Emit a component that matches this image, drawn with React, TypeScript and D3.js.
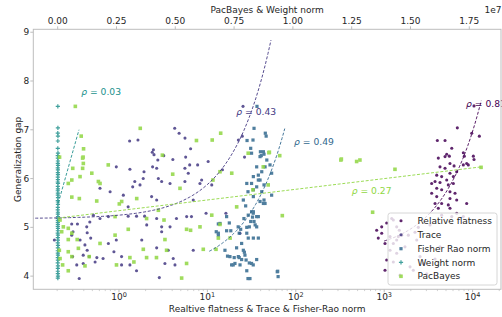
import React from "react";
import * as d3 from "d3";

// [x, generalization gap]; x for relFlat/trace/fisher on bottom log axis, pacBayes/weightNorm on top axis
const relFlat: [number, number][] = [
  [4093, 6.42], [4875, 6.45], [5458, 6.46], [8054, 6.46], [10190, 6.46], [10370, 6.39], [8570, 6.31],
  [8935, 6.28], [7850, 6.28], [6166, 6.26], [5546, 6.31], [4276, 6.24], [4875, 6.21], [6607, 6.14],
  [5546, 6.11], [3926, 6.07], [4467, 6.04], [6053, 6.04], [3758, 5.94], [4276, 5.92], [5093, 5.97],
  [5309, 5.87], [6053, 5.9], [3443, 5.9], [3926, 5.8], [4467, 5.77], [5546, 5.73], [6324, 5.7],
  [3443, 5.7], [3926, 5.63], [5546, 5.59], [6607, 5.56], [8570, 5.49], [3758, 5.49], [4467, 5.49],
  [5309, 5.46], [4093, 5.39], [5546, 5.39], [6607, 5.29], [4467, 5.25], [5808, 5.22], [7850, 5.22],
  [1067, 5.09], [937, 5.01], [822, 4.94], [937, 4.88], [857, 4.78], [1268, 5.15], [1482, 4.94],
  [1578, 4.84], [1164, 4.81], [1384, 4.74], [1021, 4.67], [1164, 4.53], [1384, 4.47], [1067, 4.33],
  [1268, 4.29], [1021, 4.12], [1510, 4.02], [1216, 5.18], [1384, 5.01], [1445, 4.81], [1268, 4.67],
  [1875, 4.84], [1718, 4.6], [1959, 4.19], [2133, 4.12], [2333, 4.74], [2541, 4.4], [2767, 4.26],
  [2230, 4.9], [3296, 5.05], [3027, 4.05], [2432, 5.0], [4276, 4.6], [3758, 4.35], [10370, 7.49],
  [6714, 7.04], [9772, 6.93], [11910, 6.87], [3990, 6.78], [4875, 6.78], [5808, 6.62], [5093, 6.5],
  [7850, 6.53],
];

const trace: [number, number][] = [
  [0.186, 4.74], [0.355, 3.95], [0.292, 5.07], [0.339, 5.07], [0.292, 4.84], [0.437, 4.89], [0.479, 4.78],
  [0.363, 4.74], [0.412, 4.64], [0.437, 4.53], [0.394, 4.43], [0.461, 4.4], [0.299, 4.4], [0.333, 4.23],
  [0.394, 4.26], [0.562, 4.38], [0.661, 4.36], [0.537, 4.29], [0.759, 4.67], [0.933, 4.74], [0.877, 4.5],
  [1.07, 4.4], [1.07, 4.23], [1.33, 4.23], [1.58, 4.11], [2.86, 3.97], [1.81, 4.74], [2.67, 4.58],
  [3.61, 4.53], [3.31, 4.26], [4.11, 4.36], [4.3, 4.23], [6.92, 4.53], [0.759, 5.22], [1.27, 5.23],
  [1.58, 5.23], [1.95, 5.23], [2.67, 5.18], [3.04, 5.01], [3.04, 4.91], [2.06, 5.05], [0.432, 5.01],
  [0.302, 4.91], [5.83, 5.22], [6.61, 5.22], [4.47, 5.18], [9.66, 5.29], [0.61, 5.8], [0.794, 5.73],
  [0.933, 6.24], [1.27, 5.42], [1.12, 5.66], [1.43, 5.83], [1.51, 5.94], [1.73, 5.87], [1.88, 6.0],
  [1.33, 6.19], [1.92, 6.14], [2.4, 6.24], [2.67, 6.21], [2.79, 6.0], [3.04, 5.94], [2.34, 5.63],
  [2.67, 5.56], [3.78, 5.9], [5.57, 5.94], [6.08, 6.11], [5.57, 6.21], [6.31, 6.28], [7.76, 6.28],
  [8.61, 5.97], [8.24, 5.9], [10.2, 6.35], [2.45, 6.59], [3.78, 5.01], [6.92, 5.56], [0.513, 5.25],
  [0.61, 5.18], [0.468, 5.11], [1.32, 6.77], [1.64, 6.79], [4.27, 7.03], [4.79, 6.93], [2.38, 6.54],
  [2.49, 6.49], [3.21, 6.47], [4.07, 6.39], [5.68, 6.44], [2.75, 6.38], [25.3, 7.48], [6.46, 6.61],
  [24.8, 6.87], [26.3, 6.44], [5.58, 6.83], [23.4, 4.88], [11.2, 5.87], [14.8, 6.18], [22.4, 6.79],
  [16.2, 5.29],
];

const fisherRao: [number, number][] = [
  [36.4, 7.48], [33.7, 7.03], [28.1, 6.78], [32.8, 6.79], [45.2, 6.93], [46.2, 6.87], [30.9, 6.62],
  [40.7, 6.47], [43.7, 6.5], [25.5, 5.56], [27.1, 5.44], [16.5, 5.22], [13.3, 5.07], [17.7, 5.09],
  [18.4, 4.93], [16.5, 4.93], [13.3, 4.88], [25.9, 5.18], [29.0, 5.25], [31.6, 5.32], [33.0, 5.29],
  [32.4, 5.21], [33.7, 5.12], [34.7, 5.05], [29.8, 5.01], [27.9, 5.0], [37.7, 5.22], [43.0, 5.49],
  [39.4, 5.53], [22.3, 5.01], [23.8, 4.96], [22.9, 4.88], [27.9, 4.88], [29.0, 4.78], [33.1, 4.78],
  [24.4, 4.67], [21.4, 4.58], [25.5, 4.53], [26.2, 4.49], [26.6, 4.43], [15.8, 4.53], [16.9, 4.41],
  [20.1, 4.38], [22.9, 4.38], [24.4, 4.34], [27.4, 4.33], [29.8, 4.27], [20.5, 4.26], [18.8, 4.23],
  [33.0, 4.23], [36.1, 4.34], [27.9, 4.11], [30.3, 3.95], [61.7, 4.09], [13.3, 4.84], [12.6, 4.91],
  [13.9, 5.08], [18.0, 4.4], [19.6, 4.23], [23.4, 4.23], [22.4, 4.4], [28.8, 3.95], [36.1, 6.24],
  [33.1, 6.04], [37.7, 5.97], [27.9, 5.9], [28.8, 5.73], [33.1, 5.63], [31.6, 6.52], [43.0, 6.55],
  [39.4, 6.45], [47.0, 6.38], [44.9, 6.24], [51.1, 6.28], [53.3, 6.11], [41.2, 6.14], [37.7, 6.07],
  [39.4, 5.97], [31.6, 5.9], [36.1, 5.83], [33.1, 5.77], [43.7, 5.87], [41.2, 5.73], [53.3, 5.66],
  [43.7, 5.56], [44.9, 5.49], [33.1, 5.32], [36.1, 5.22], [30.9, 5.12], [36.1, 5.01], [37.7, 4.78],
  [31.6, 4.26], [62.4, 4.1], [63.1, 3.99], [39.8, 6.55],
];

const weightNorm: [number, number][] = [
  [6000, 7.48], [9000, 7.04], [4000, 6.93], [11000, 6.87], [7000, 6.77], [5000, 6.62], [12000, 6.52],
  [3000, 6.47], [8000, 6.42], [10000, 6.36], [6000, 6.31], [13000, 6.27], [4000, 6.22], [9000, 6.18],
  [7000, 6.12], [11000, 6.08], [5000, 6.03], [8000, 5.98], [3000, 5.93], [12000, 5.9], [6000, 5.84],
  [10000, 5.79], [4000, 5.75], [9000, 5.7], [7000, 5.66], [13000, 5.61], [5000, 5.55], [8000, 5.52],
  [11000, 5.47], [6000, 5.41], [3000, 5.36], [10000, 5.31], [7000, 5.27], [12000, 5.22], [4000, 5.18],
  [9000, 5.14], [6000, 5.1], [8000, 5.06], [5000, 5.02], [11000, 4.98], [7000, 4.93], [3000, 4.88],
  [10000, 4.84], [6000, 4.79], [9000, 4.74], [4000, 4.68], [12000, 4.63], [8000, 4.58], [5000, 4.52],
  [7000, 4.47], [11000, 4.43], [6000, 4.38], [9000, 4.33], [3000, 4.27], [10000, 4.21], [8000, 4.16],
  [5000, 4.1], [7000, 4.05], [12000, 4.0], [6000, 3.96],
];

const pacBayes: [number, number][] = [
  [0.075e7, 7.48], [0.351e7, 7.03], [0.1e7, 6.87], [0.11e7, 6.61], [0.108e7, 6.44], [0.445e7, 6.48],
  [0.008e7, 6.44], [0.59e7, 6.78], [0.657e7, 6.79], [0.693e7, 6.93], [0.9e7, 6.54], [0.944e7, 6.47],
  [1.206e7, 6.4], [0.106e7, 6.42], [0.109e7, 6.31], [0.064e7, 6.21], [0.106e7, 6.21], [0.095e7, 6.04],
  [0.06e7, 5.97], [0.045e7, 5.9], [0.145e7, 6.11], [0.215e7, 6.28], [0.173e7, 5.94], [0.18e7, 5.9],
  [0.06e7, 5.62], [0.092e7, 5.59], [0.166e7, 5.54], [0.262e7, 5.48], [0.272e7, 5.53], [0.336e7, 5.59],
  [0.244e7, 5.22], [0.378e7, 5.18], [0.01e7, 5.15], [0.024e7, 5.01], [0.045e7, 4.98], [0.017e7, 4.91],
  [0.06e7, 4.88], [0.045e7, 4.75], [0.083e7, 4.75], [0.18e7, 4.67], [0.244e7, 4.84], [0.3e7, 4.96],
  [0.088e7, 4.57], [0.007e7, 4.53], [0.045e7, 4.5], [0.134e7, 4.4], [0.06e7, 4.4], [0.01e7, 4.36],
  [0.116e7, 4.21], [0.021e7, 4.23], [0.045e7, 4.11], [0.307e7, 4.38], [0.324e7, 4.29], [0.378e7, 4.38],
  [0.42e7, 4.38], [0.25e7, 4.23], [0.364e7, 4.55], [0.463e7, 4.53], [0.548e7, 4.26], [0.527e7, 3.96],
  [0.428e7, 5.35], [0.452e7, 5.15], [0.489e7, 6.09], [0.456e7, 4.75], [0.52e7, 5.8], [0.548e7, 4.96],
  [0.565e7, 4.94], [0.605e7, 5.01], [0.619e7, 4.55], [0.69e7, 6.14], [0.74e7, 6.11], [0.683e7, 4.78],
  [0.83e7, 5.77], [0.66e7, 5.97], [0.81e7, 6.52], [0.898e7, 6.53], [0.874e7, 6.24], [0.895e7, 5.87],
  [0.955e7, 5.24], [1.204e7, 6.38], [1.271e7, 6.35], [1.285e7, 6.38], [1.434e7, 6.19], [1.339e7, 5.31],
  [1.8e7, 6.23], [0.761e7, 5.42], [0.655e7, 5.25], [0.69e7, 5.06], [0.673e7, 4.55], [0.733e7, 4.78],
];

// linear fits y = a + b*x, drawn from x0 to x1, with the label anchor
const fits = [
  { key: "rel", a: 4.47, b: 2.5e-4, x0: 1000, x1: 12500, rho: "0.81", lx: 8414, ly: 7.54 },
  { key: "trace", a: 5.18, b: 0.0698, x0: 0.1, x1: 52.4, rho: "0.43", lx: 21.2, ly: 7.37 },
  { key: "fisher", a: 4.1, b: 0.039, x0: 10.5, x1: 75, rho: "0.49", lx: 95.5, ly: 6.76 },
  { key: "weight", a: 5.456, b: 1.705e-6, x0: 0.0026e7, x1: 0.0906e7, rho: "0.03", lx: 0.1e7, ly: 7.77 },
  { key: "pac", a: 5.19, b: 5.83e-8, x0: 0, x1: 1.8e7, rho: "0.27", lx: 1.25e7, ly: 5.75 },
];

const series = [
  { key: "rel", label: "Relative flatness", color: "#440154", shape: "circle", top: false, data: relFlat },
  { key: "trace", label: "Trace", color: "#443983", shape: "circle", top: false, data: trace },
  { key: "fisher", label: "Fisher Rao norm", color: "#31688e", shape: "square", top: false, data: fisherRao },
  { key: "weight", label: "Weight norm", color: "#21918c", shape: "plus", top: true, data: weightNorm },
  { key: "pac", label: "PacBayes", color: "#90d743", shape: "bigsquare", top: true, data: pacBayes },
];

const yTicks = [4, 5, 6, 7, 8, 9];
const topTicks = [0, 0.25e7, 0.5e7, 0.75e7, 1e7, 1.25e7, 1.5e7, 1.75e7];
const logTicks = [0, 1, 2, 3, 4];

const W = 502;
const H = 317;
const L = 33.3, R = 501, T = 29.3, B = 289.3;
const font = "DejaVu Sans, sans-serif";
const spine = "#bdbdbd";
const txt = "#262626";

function Marker({ shape, x, y, color }: { shape: string; x: number; y: number; color: string }) {
  if (shape === "square" || shape === "bigsquare") {
    const h = shape === "square" ? 1.6 : 1.8;
    return <rect x={x - h} y={y - h} width={2 * h} height={2 * h} fill={color} />;
  }
  if (shape === "plus") {
    const a = 2.1, b = 0.6;
    const d = `M${x - b},${y - a}H${x + b}V${y - b}H${x + a}V${y + b}H${x + b}V${y + a}H${x - b}V${y + b}H${x - a}V${y - b}H${x - b}Z`;
    return <path d={d} fill={color} />;
  }
  return <circle cx={x} cy={y} r={1.55} fill={color} />;
}

export default function App() {
  const xLog = d3.scaleLog().domain([10 ** -0.969, 10 ** 4.321]).range([L, R]);
  const xTop = d3.scaleLinear().domain([-0.1037e7, 1.8848e7]).range([L, R]);
  const y = d3.scaleLinear().domain([3.73, 9.06]).range([B, T]);

  const minor: number[] = [];
  for (let k = -1; k <= 4; k++) {
    for (let m = 2; m <= 9; m++) {
      const v = m * 10 ** k;
      if (xLog(v) >= L && xLog(v) <= R) minor.push(v);
    }
  }

  const colorOf = (k: string) => series.find((s) => s.key === k)!.color;
  const isTop = (k: string) => series.find((s) => s.key === k)!.top;

  const fitPath = (f: (typeof fits)[number]) => {
    const top = isTop(f.key);
    const pts = top
      ? [f.x0, f.x1]
      : d3.range(0, 81).map((i) => Math.exp(Math.log(f.x0) + (i / 80) * (Math.log(f.x1) - Math.log(f.x0))));
    const sx = top ? xTop : xLog;
    return d3.line<number>().x((v) => sx(v)).y((v) => y(f.a + f.b * v))(pts) ?? "";
  };

  const legendY = [220.7, 234.7, 248.7, 262.4, 276.3];

  return (
    <svg width={W} height={H} style={{ position: "absolute", left: 0, top: 0, background: "#fff" }} fontFamily={font}>
      <defs>
        <clipPath id="plot">
          <rect x={L} y={T} width={R - L} height={B - T} />
        </clipPath>
      </defs>

      <g clipPath="url(#plot)">
        {series.map((s) => (
          <g key={s.key} opacity={0.85}>
            {s.data.map((d, i) => (
              <Marker key={i} shape={s.shape} x={(s.top ? xTop : xLog)(d[0])} y={y(d[1])} color={s.color} />
            ))}
          </g>
        ))}
        {fits.map((f) => (
          <path key={f.key} d={fitPath(f)} fill="none" stroke={colorOf(f.key)} strokeWidth={0.9} strokeDasharray="3,1.7" />
        ))}
      </g>

      {fits.map((f) => (
        <text key={f.key} x={(isTop(f.key) ? xTop : xLog)(f.lx)} y={y(f.ly)} dy="0.35em" fontSize={9.2} fill={colorOf(f.key)}>
          <tspan fontStyle="italic">ρ</tspan> = {f.rho}
        </text>
      ))}

      {/* spines */}
      <rect x={L} y={T} width={R - L} height={B - T} fill="none" stroke={spine} strokeWidth={1} />

      {/* y axis */}
      {yTicks.map((t) => (
        <g key={t}>
          <line x1={L - 3} x2={L} y1={y(t)} y2={y(t)} stroke={spine} />
          <text x={L - 4} y={y(t)} dy="0.35em" textAnchor="end" fontSize={9} fill={txt}>{t}</text>
        </g>
      ))}
      <text transform={`translate(17.5,${(T + B) / 2}) rotate(-90)`} textAnchor="middle" dy="0.35em" fontSize={9} fill={txt}>
        Generalization gap
      </text>

      {/* bottom log axis */}
      {logTicks.map((e) => (
        <g key={e}>
          <line x1={xLog(10 ** e)} x2={xLog(10 ** e)} y1={B} y2={B + 3} stroke={spine} />
          <text x={xLog(10 ** e)} y={B + 11} textAnchor="middle" fontSize={9} fill={txt}>
            10<tspan dy={-3.5} fontSize={6.5}>{e}</tspan>
          </text>
        </g>
      ))}
      {minor.map((v) => (
        <line key={v} x1={xLog(v)} x2={xLog(v)} y1={B} y2={B + 1.8} stroke={spine} strokeWidth={0.7} />
      ))}
      <text x={(L + R) / 2} y={308.5} dy="0.35em" textAnchor="middle" fontSize={9} fill={txt}>
        Realtive flatness &amp; Trace &amp; Fisher-Rao norm
      </text>

      {/* top axis */}
      {topTicks.map((t) => (
        <g key={t}>
          <line x1={xTop(t)} x2={xTop(t)} y1={T} y2={T - 3} stroke={spine} />
          <text x={xTop(t)} y={20.5} dy="0.35em" textAnchor="middle" fontSize={9} fill={txt}>
            {(t / 1e7).toFixed(2)}
          </text>
        </g>
      ))}
      <text x={(L + R) / 2} y={9.5} dy="0.35em" textAnchor="middle" fontSize={9} fill={txt}>
        PacBayes &amp; Weight norm
      </text>
      <text x={501.5} y={9.5} dy="0.35em" textAnchor="end" fontSize={9} fill={txt}>1e7</text>

      {/* legend */}
      <rect x={388} y={213} width={109} height={72} rx={2.5} fill="#fff" fillOpacity={0.8} stroke="#cccccc" strokeWidth={0.8} />
      {series.map((s, i) => (
        <g key={s.key}>
          <g opacity={0.85}>
            <Marker shape={s.shape} x={401} y={legendY[i]} color={s.color} />
          </g>
          <text x={417.5} y={legendY[i]} dy="0.35em" fontSize={9} fill={txt}>{s.label}</text>
        </g>
      ))}
    </svg>
  );
}
